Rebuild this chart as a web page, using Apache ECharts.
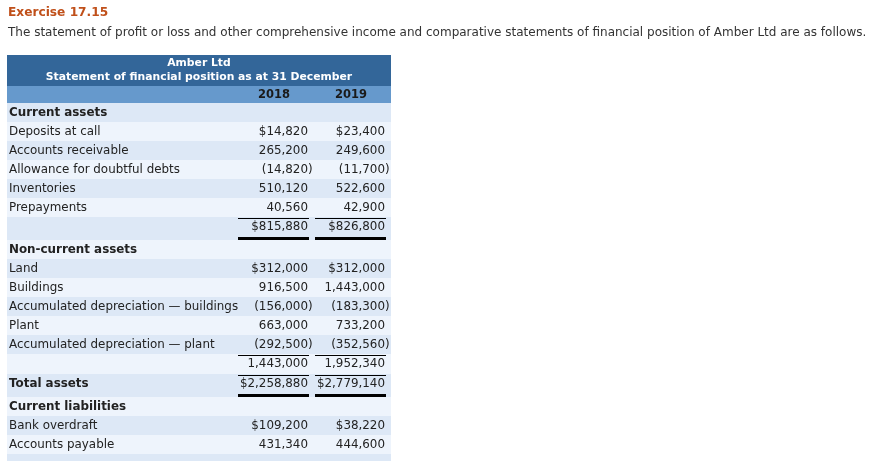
<!DOCTYPE html>
<html>
<head>
<meta charset="utf-8">
<script src="https://cdn.jsdelivr.net/npm/echarts@6/dist/echarts.min.js"></script>
<style>
html,body{margin:0;padding:0;background:#fff;}
#chart{width:869px;height:461px;}
</style>
</head>
<body>
<div id="chart"></div>
<script>
// ---- data ----
const exerciseTitle = 'Exercise 17.15';
const description = 'The statement of profit or loss and other comprehensive income and comparative statements of financial position of Amber Ltd are as follows.';
const tableTitle = ['Amber Ltd', 'Statement of financial position as at 31 December'];
const yearLabels = ['2018', '2019'];
const categories = ['Current assets', 'Deposits at call', 'Accounts receivable', 'Allowance for doubtful debts', 'Inventories', 'Prepayments', '', 'Non-current assets', 'Land', 'Buildings', 'Accumulated depreciation \u2014 buildings', 'Plant', 'Accumulated depreciation \u2014 plant', '', 'Total assets', 'Current liabilities', 'Bank overdraft', 'Accounts payable', ''];
const values2018 = [null, 14820, 265200, -14820, 510120, 40560, 815880, null, 312000, 916500, -156000, 663000, -292500, 1443000, 2258880, null, 109200, 431340, null];
const values2019 = [null, 23400, 249600, -11700, 522600, 42900, 826800, null, 312000, 1443000, -183300, 733200, -352560, 1952340, 2779140, null, 38220, 444600, null];
const showDollar = [false, true, false, false, false, false, true, false, true, false, false, false, false, false, true, false, true, false, false];
const rowKinds = ['head', 'item', 'item', 'item', 'item', 'item', 'total', 'head', 'item', 'item', 'item', 'item', 'item', 'sub', 'total', 'head', 'item', 'item', 'item'];

// ---- layout / style ----
const FONT = 'DejaVu Sans';
const TABLE_W = 384;
const HEADER_TOP = 55, HEADER_H = 31, SUB_H = 17;
const ROW_H = { head: 19, item: 19, sub: 20, total: 23 };
const TEXT_OFF = { head: 9.5, item: 9.5, sub: 10, total: 10 };
const COL_RIGHT = [308, 385];
const COL_LINE = [[238, 309], [315, 386]];
const YEAR_CENTER = [274, 351];
const C_DARK = '#336699', C_SUBHEAD = '#6699cc', C_ROW_A = '#dde8f6', C_ROW_B = '#eef4fc';

const rowTops = [];
let acc = HEADER_TOP + HEADER_H + SUB_H;
rowKinds.forEach(k => { rowTops.push(acc); acc += ROW_H[k]; });

function fmt(v, dollar) {
  const s = Math.abs(v).toLocaleString('en-US');
  return (v < 0 ? '(' : '') + (dollar ? '$' : '') + s;
}

const chart = echarts.init(document.getElementById('chart'), null, { renderer: 'canvas' });

function renderItem(params, api) {
  const i = params.dataIndex;
  const children = [];
  const P = (x, y) => api.coord([x, y]);
  if (i === 0) {
    const a = P(0, HEADER_TOP), b = P(TABLE_W, HEADER_TOP + HEADER_H), c = P(TABLE_W, HEADER_TOP + HEADER_H + SUB_H);
    children.push({ type: 'rect', shape: { x: a[0], y: a[1], width: b[0] - a[0], height: b[1] - a[1] }, style: { fill: C_DARK } });
    children.push({ type: 'rect', shape: { x: a[0], y: b[1], width: b[0] - a[0], height: c[1] - b[1] }, style: { fill: C_SUBHEAD } });
    const mid = P(TABLE_W / 2, HEADER_TOP + 8);
    const mid2 = P(TABLE_W / 2, HEADER_TOP + 22);
    children.push({ type: 'text', style: { x: mid[0], y: mid[1], text: tableTitle[0], fill: '#fff', font: 'bold 10.8px ' + FONT, align: 'center', verticalAlign: 'middle' } });
    children.push({ type: 'text', style: { x: mid2[0], y: mid2[1], text: tableTitle[1], fill: '#fff', font: 'bold 10.8px ' + FONT, align: 'center', verticalAlign: 'middle' } });
    yearLabels.forEach((yl, k) => {
      const p = P(YEAR_CENTER[k] - 7, HEADER_TOP + HEADER_H + SUB_H / 2 + 0.5);
      children.push({ type: 'text', style: { x: p[0], y: p[1], text: yl, fill: '#1a1a1a', font: 'bold 11.5px ' + FONT, align: 'center', verticalAlign: 'middle' } });
    });
  }
  const kind = rowKinds[i];
  const top = rowTops[i];
  const h = ROW_H[kind];
  const tl = P(0, top), br = P(TABLE_W, top + h);
  children.push({ type: 'rect', shape: { x: tl[0], y: tl[1], width: br[0] - tl[0], height: br[1] - tl[1] }, style: { fill: i % 2 === 0 ? C_ROW_A : C_ROW_B } });
  const ty = top + TEXT_OFF[kind];
  const bold = (kind === 'head' || categories[i] === 'Total assets');
  if (categories[i]) {
    const p = P(2, ty);
    children.push({ type: 'text', style: { x: p[0], y: p[1], text: categories[i], fill: '#222', font: (bold ? 'bold ' : '') + '11.9px ' + FONT, align: 'left', verticalAlign: 'middle' } });
  }
  [values2018[i], values2019[i]].forEach((v, k) => {
    if (v === null || v === undefined) return;
    const p = P(COL_RIGHT[k] - 7, ty);
    children.push({ type: 'text', style: { x: p[0], y: p[1], text: fmt(v, showDollar[i]), fill: '#222', font: '11.9px ' + FONT, align: 'right', verticalAlign: 'middle' } });
    if (v < 0) children.push({ type: 'text', style: { x: p[0], y: p[1], text: ')', fill: '#222', font: '11.9px ' + FONT, align: 'left', verticalAlign: 'middle' } });
    if (kind === 'sub' || kind === 'total') {
      const l0 = P(COL_LINE[k][0] - 7, top + 1), l1 = P(COL_LINE[k][1] - 7, top + 1);
      children.push({ type: 'line', shape: { x1: l0[0], y1: l0[1] + 0.5, x2: l1[0], y2: l1[1] + 0.5 }, style: { stroke: '#000', lineWidth: 1 } });
    }
    if (kind === 'total') {
      const t0 = P(COL_LINE[k][0] - 7, top + 20), t1 = P(COL_LINE[k][1] - 7, top + 23);
      children.push({ type: 'rect', shape: { x: t0[0], y: t0[1], width: t1[0] - t0[0], height: t1[1] - t0[1] }, style: { fill: '#000' } });
    }
  });
  return { type: 'group', children };
}

chart.setOption({
  animation: false,
  backgroundColor: '#fff',
  title: [
    { text: exerciseTitle, left: 3, top: 2, textStyle: { fontFamily: FONT, fontSize: 12.2, fontWeight: 'bold', color: '#c0501a' } },
    { text: description, left: 3, top: 22, textStyle: { fontFamily: FONT, fontSize: 12, fontWeight: 'normal', color: '#333' } }
  ],
  grid: { left: 7, top: 0, width: TABLE_W, height: 461 },
  xAxis: { type: 'value', min: 0, max: TABLE_W, show: false },
  yAxis: { type: 'value', min: 0, max: 461, inverse: true, show: false },
  series: [{
    type: 'custom',
    clip: false,
    renderItem: renderItem,
    data: categories.map((c, i) => [i]),
    encode: { x: -1, y: -1 },
    silent: true
  }]
});
</script>
</body>
</html>
